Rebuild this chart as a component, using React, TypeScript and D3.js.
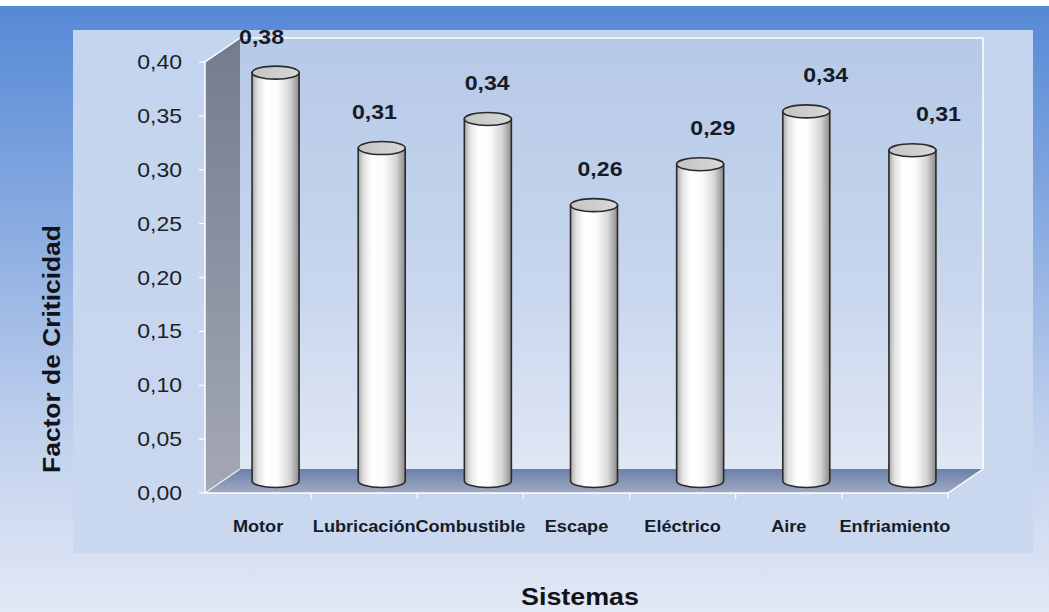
import React from "react";
import * as d3 from "d3";

// Criticality factor per vehicle system
const categories = ["Motor", "Lubricación", "Combustible", "Escape", "Eléctrico", "Aire", "Enfriamiento"];
const values = [0.379, 0.309, 0.336, 0.256, 0.294, 0.343, 0.307];
const yTicks = [0, 0.05, 0.1, 0.15, 0.2, 0.25, 0.3, 0.35, 0.4];
const yTitle = "Factor de Criticidad";
const xTitle = "Sistemas";

const W = 1049;
const H = 612;

// 3D frame: front plane and depth offset
const frontLeft = 205;
const frontRight = 948;
const frontBottom = 493;
const frontTop = 62;
const depthX = 35;
const depthY = -24;

const FONT = "'Liberation Sans', Arial, Helvetica, sans-serif";
const fmt = (v: number) => d3.format(".2f")(v).replace(".", ",");

function SText(props: {
  x: number; y: number; size: number; weight?: string; anchor?: string;
  rotate?: number; sx?: number; fill?: string; children: React.ReactNode;
}) {
  const { x, y, size, weight = "normal", anchor = "middle", rotate = 0, sx = 1, fill = "#15181f", children } = props;
  return (
    <text
      transform={`translate(${x},${y}) rotate(${rotate}) scale(${sx},1)`}
      fontFamily={FONT}
      fontSize={size}
      fontWeight={weight}
      textAnchor={anchor}
      fill={fill}
    >
      {children}
    </text>
  );
}

export default function App() {
  const y = d3.scaleLinear().domain([0, 0.4]).range([frontBottom, frontTop]);
  const x = d3.scaleBand<string>().domain(categories).range([frontLeft, frontRight]);
  const labelShift = d3.scaleLinear().domain([0, categories.length - 1]).range([-14, 26]);

  const r = 23.5;
  const ry = 6.5;
  const midX = depthX / 2;
  const midY = depthY / 2;

  const backLeft = frontLeft + depthX;
  const backRight = frontRight + depthX;
  const backBottom = frontBottom + depthY;
  const backTop = frontTop + depthY;

  const leftWall = [
    [frontLeft, frontTop], [backLeft, backTop], [backLeft, backBottom], [frontLeft, frontBottom],
  ];
  const floor = [
    [frontLeft, frontBottom], [backLeft, backBottom], [backRight, backBottom], [frontRight, frontBottom],
  ];
  const poly = (pts: number[][]) => "M" + pts.map((p) => p.join(",")).join("L") + "Z";

  return (
    <svg
      width={W}
      height={H}
      style={{ position: "absolute", left: 0, top: 0, display: "block" }}
    >
      <defs>
        <linearGradient id="bg" x1="0" y1="0" x2="0" y2="1">
          <stop offset="0" stopColor="#5689d6" />
          <stop offset="0.35" stopColor="#87aae0" />
          <stop offset="0.7" stopColor="#bfd0ed" />
          <stop offset="1" stopColor="#e3e8f5" />
        </linearGradient>
        <linearGradient id="plotBg" x1="0" y1="0" x2="0" y2="1">
          <stop offset="0" stopColor="#c3d4ee" />
          <stop offset="1" stopColor="#cad8ef" />
        </linearGradient>
        <linearGradient id="backWall" x1="0" y1="0" x2="0" y2="1">
          <stop offset="0" stopColor="#b6c9e7" />
          <stop offset="0.6" stopColor="#c9d7ee" />
          <stop offset="1" stopColor="#e0e7f4" />
        </linearGradient>
        <linearGradient id="sideWall" x1="0" y1="0" x2="0" y2="1">
          <stop offset="0" stopColor="#737c8e" />
          <stop offset="1" stopColor="#a4a8b4" />
        </linearGradient>
        <linearGradient id="floorGrad" x1="0" y1="0" x2="0" y2="1">
          <stop offset="0" stopColor="#6a80aa" />
          <stop offset="1" stopColor="#a0aac2" />
        </linearGradient>
        <linearGradient id="cyl" x1="0" y1="0" x2="1" y2="0">
          <stop offset="0" stopColor="#a9a9a9" />
          <stop offset="0.12" stopColor="#e2e2e2" />
          <stop offset="0.3" stopColor="#ffffff" />
          <stop offset="0.55" stopColor="#fbfbfb" />
          <stop offset="0.8" stopColor="#d6d6d6" />
          <stop offset="1" stopColor="#8c8c8c" />
        </linearGradient>
        <linearGradient id="cylTop" x1="0" y1="0" x2="1" y2="0">
          <stop offset="0" stopColor="#c4c4c4" />
          <stop offset="1" stopColor="#d8d8d8" />
        </linearGradient>
      </defs>

      {/* page background */}
      <rect x={0} y={0} width={W} height={H} fill="#ffffff" />
      <rect x={0} y={6} width={W} height={H - 6} fill="url(#bg)" />

      {/* plot area */}
      <rect x={73} y={30} width={960} height={523} fill="url(#plotBg)" />

      {/* back wall */}
      <rect
        x={backLeft}
        y={backTop}
        width={backRight - backLeft}
        height={backBottom - backTop}
        fill="url(#backWall)"
      />
      <path
        d={`M${backLeft},${backTop}L${backRight},${backTop}L${backRight},${backBottom}`}
        fill="none"
        stroke="#ffffff"
        strokeWidth={1.5}
      />

      {/* side wall and floor */}
      <path d={poly(leftWall)} fill="url(#sideWall)" />
      <path d={poly(floor)} fill="url(#floorGrad)" />
      <path
        d={`M${frontLeft},${frontBottom}L${backLeft},${backBottom}`}
        stroke="#e8eef8"
        strokeWidth={1.5}
      />
      <path
        d={`M${frontRight},${frontBottom}L${backRight},${backBottom}`}
        stroke="#ffffff"
        strokeWidth={1.5}
      />
      <path
        d={`M${backLeft},${backTop}L${frontLeft},${frontTop}L${frontLeft},${frontBottom}L${frontRight},${frontBottom}`}
        fill="none"
        stroke="#ffffff"
        strokeWidth={1.5}
      />

      {/* y axis ticks and labels */}
      {yTicks.map((t) => (
        <g key={t}>
          <line x1={frontLeft - 6} x2={frontLeft} y1={y(t)} y2={y(t)} stroke="#ffffff" strokeWidth={1.2} />
          <SText x={182} y={y(t) + 7} size={20} anchor="end" sx={1.15} fill="#1c1f26">
            {fmt(t)}
          </SText>
        </g>
      ))}

      {/* x axis ticks */}
      {categories.slice(1).map((c) => (
        <line
          key={c}
          x1={x(c)!}
          x2={x(c)!}
          y1={frontBottom}
          y2={frontBottom + 6}
          stroke="#ffffff"
          strokeWidth={1.2}
        />
      ))}
      <line x1={frontRight} x2={frontRight} y1={frontBottom} y2={frontBottom + 6} stroke="#ffffff" strokeWidth={1.2} />

      {/* cylinders */}
      {categories.map((c, i) => {
        const cx = x(c)! + x.bandwidth() / 2 + midX;
        const base = y(0) + midY;
        const top = y(values[i]) + midY;
        const body = `M${cx - r},${top}L${cx - r},${base}A${r},${ry} 0 0 0 ${cx + r},${base}L${cx + r},${top}Z`;
        return (
          <g key={c}>
            <path d={body} fill="url(#cyl)" stroke="#2a2a2a" strokeWidth={1.6} />
            <ellipse cx={cx} cy={top} rx={r} ry={ry} fill="url(#cylTop)" stroke="#2a2a2a" strokeWidth={1.6} />
          </g>
        );
      })}

      {/* value labels */}
      {categories.map((c, i) => {
        const cx = x(c)! + x.bandwidth() / 2 + midX + labelShift(i);
        const top = y(values[i]) + midY;
        return (
          <SText key={c} x={cx} y={top - 37 + 8} size={21} weight="bold" sx={1.1} fill="#161b26">
            {fmt(values[i])}
          </SText>
        );
      })}

      {/* category labels */}
      {categories.map((c) => (
        <SText key={c} x={x(c)! + x.bandwidth() / 2} y={532} size={16.5} weight="bold" sx={1.1} fill="#161b26">
          {c}
        </SText>
      ))}

      {/* axis titles */}
      <SText x={60} y={349} size={24} weight="bold" rotate={-90} sx={1.1} fill="#111318">
        {yTitle}
      </SText>
      <SText x={580} y={605} size={24} weight="bold" sx={1.12} fill="#111318">
        {xTitle}
      </SText>
    </svg>
  );
}
